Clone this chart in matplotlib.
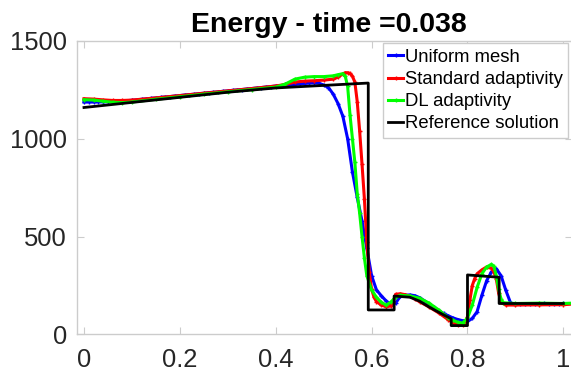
import numpy as np
import matplotlib
matplotlib.use("Agg")
import matplotlib.pyplot as plt

plt.rcParams['font.family'] = ['Liberation Sans', 'DejaVu Sans']

TITLE = "Energy - time =0.038"
LABELS = ["Uniform mesh", "Standard adaptivity", "DL adaptivity", "Reference solution"]

# Uniform mesh: cell values on a regular grid, step 0.01
uniform_y = [
    1188, 1188, 1188, 1189, 1189, 1190, 1191, 1192, 1194, 1195,
    1197, 1199, 1202, 1204, 1207, 1209, 1212, 1214, 1216, 1219,
    1221, 1224, 1226, 1228, 1231, 1233, 1236, 1238, 1240, 1243,
    1245, 1248, 1250, 1252, 1255, 1257, 1260, 1262, 1265, 1267,
    1270, 1272, 1274, 1276, 1278, 1280, 1283, 1285, 1286, 1284,
    1275, 1262, 1228, 1180, 1115, 1000, 830, 700, 580, 440,
    300, 228, 198, 172, 152, 160, 195, 200, 202, 198,
    188, 172, 155, 138, 122, 107, 95, 84, 76, 70,
    66, 82, 116, 200, 275, 320, 336, 300, 225, 160,
    155, 156, 157, 157, 156, 157, 158, 157, 156, 157,
    158,
]
uniform_x = np.linspace(0.0, 1.0, len(uniform_y))

# Standard adaptivity: non-uniform cell centres
standard_x = [
    0.00, 0.02, 0.04, 0.06, 0.08, 0.10, 0.15, 0.20, 0.25, 0.30,
    0.35, 0.40, 0.42, 0.44, 0.46, 0.48, 0.50, 0.52, 0.53, 0.54,
    0.545, 0.55, 0.555, 0.56, 0.565, 0.57, 0.575, 0.58, 0.585, 0.59,
    0.595, 0.60, 0.605, 0.61, 0.62, 0.63, 0.64, 0.645, 0.65, 0.66,
    0.67, 0.68, 0.69, 0.70, 0.72, 0.74, 0.76, 0.77, 0.78, 0.79,
    0.795, 0.80, 0.805, 0.81, 0.815, 0.82, 0.83, 0.84, 0.85, 0.855,
    0.86, 0.865, 0.87, 0.88, 0.90, 0.95, 1.00, 1.02,
]
standard_y = [
    1205, 1203, 1199, 1196, 1196, 1198, 1209, 1221, 1233, 1245,
    1257, 1270, 1278, 1290, 1295, 1297, 1300, 1305, 1315, 1332,
    1338, 1338, 1334, 1320, 1290, 1190, 1040, 870, 690, 470,
    320, 230, 190, 168, 150, 142, 145, 165, 205, 208,
    203, 195, 182, 167, 140, 110, 75, 60, 50, 48,
    55, 90, 176, 250, 285, 310, 330, 345, 338, 320,
    285, 210, 165, 150, 150, 151, 152, 155,
]

# DL adaptivity
dl_x = [
    0.00, 0.02, 0.04, 0.06, 0.08, 0.10, 0.15, 0.20, 0.25, 0.30,
    0.35, 0.40, 0.42, 0.44, 0.46, 0.48, 0.50, 0.52, 0.53, 0.54,
    0.545, 0.55, 0.555, 0.56, 0.565, 0.57, 0.575, 0.58, 0.585, 0.59,
    0.60, 0.61, 0.62, 0.63, 0.64, 0.65, 0.66, 0.68, 0.70, 0.72,
    0.74, 0.76, 0.77, 0.78, 0.79, 0.80, 0.81, 0.82, 0.83, 0.84,
    0.85, 0.855, 0.86, 0.865, 0.87, 0.875, 0.90, 0.95, 1.00, 1.02,
]
dl_y = [
    1200, 1198, 1192, 1187, 1185, 1188, 1202, 1215, 1228, 1240,
    1252, 1264, 1280, 1305, 1315, 1318, 1318, 1322, 1328, 1333,
    1320, 1268, 1120, 1000, 880, 720, 620, 500, 390, 300,
    227, 190, 165, 150, 165, 190, 200, 197, 185, 160,
    125, 85, 72, 62, 58, 84, 150, 240, 310, 345,
    358, 348, 300, 230, 180, 162, 158, 160, 158, 160,
]

# Reference solution (piecewise, with the jumps)
ref_x = [0.0, 0.1, 0.2, 0.3, 0.4, 0.5, 0.593, 0.593, 0.647, 0.647,
         0.68, 0.70, 0.72, 0.74, 0.766, 0.766, 0.80, 0.80, 0.866, 0.866, 1.0]
ref_y = [1160, 1186, 1212, 1238, 1260, 1273, 1285, 125, 125, 196,
         190, 170, 140, 113, 80, 45, 45, 304, 292, 158, 158]

W, H = 571, 375
fig = plt.figure(figsize=(W / 100, H / 100), dpi=100)
ax = fig.add_axes([76.7 / W, (H - 334.4) / H, (572 - 76.7) / W, (334.4 - 41.0) / H])

mk = dict(marker='+', markersize=3.5, markeredgewidth=1.0, linewidth=2.2)
ax.plot(uniform_x, uniform_y, color='#0000ff', label=LABELS[0], **mk)
ax.plot(standard_x, standard_y, color='#ff0000', label=LABELS[1], **mk)
ax.plot(dl_x, dl_y, color='#00ff00', label=LABELS[2], **mk)
ax.plot(ref_x, ref_y, color='black', linewidth=2.0, label=LABELS[3])

ax.set_xlim(-0.0152, 1.018)
ax.set_ylim(0, 1500)
ax.set_xticks([0, 0.2, 0.4, 0.6, 0.8, 1.0])
ax.set_xticklabels(['0', '0.2', '0.4', '0.6', '0.8', '1'])
ax.set_yticks([0, 500, 1000, 1500])

axis_grey = '#cccccc'
text_grey = '#262626'
for s in ax.spines.values():
    s.set_color(axis_grey)
    s.set_linewidth(1.0)
ax.tick_params(direction='in', length=5, width=0.8, color=axis_grey,
               labelcolor=text_grey, labelsize=18.4, top=True, right=True)
ax.tick_params(axis='x', pad=10)
ax.tick_params(axis='y', pad=7)

fig.text(329 / W, 1 - 31.7 / H, TITLE, ha='center', va='baseline',
         fontsize=20.5, fontweight='bold', color='black')

leg = ax.legend(loc='upper right', bbox_to_anchor=(568.3 / W, 1 - 43.3 / H),
                bbox_transform=fig.transFigure, borderaxespad=0,
                fontsize=13.3, handlelength=0.8, handletextpad=0.1,
                labelspacing=0.28, borderpad=0.3, fancybox=False,
                framealpha=1, edgecolor=axis_grey, numpoints=1)
leg.get_frame().set_linewidth(1.0)
for t in leg.get_texts():
    t.set_color('black')

fig.savefig('out.png', dpi=100)
